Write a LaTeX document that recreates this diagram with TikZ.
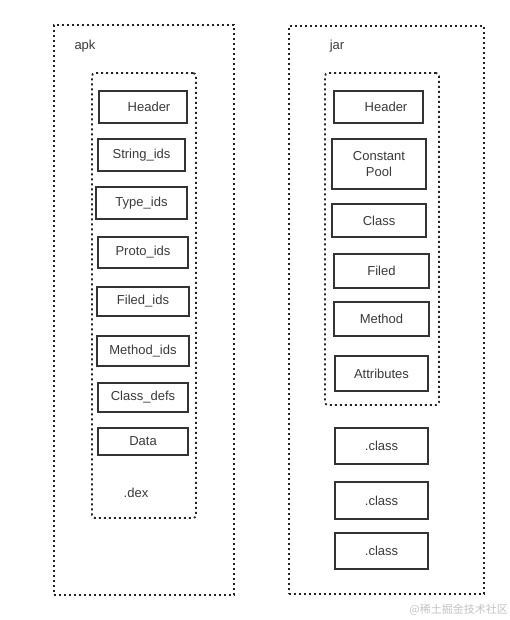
\documentclass[tikz,border=0pt]{standalone}
\usepackage{fontspec}
\setmainfont{Liberation Sans}
\newfontfamily\cjkfont{Noto Sans CJK SC}
\begin{document}
\begin{tikzpicture}[x=1pt,y=-1pt,
  every node/.style={font=\fontsize{13}{15.5}\selectfont, text=txtgray},
  blk/.style={draw=boxgray, line width=1.6pt, inner sep=0pt, align=center},
  container/.style={draw=dotgray, line width=1.8pt, dash pattern=on 2pt off 3pt, inner sep=0pt},
  inner container/.style={container, rounded corners=3pt},
  lbl/.style={inner sep=0pt}
]
\definecolor{boxgray}{HTML}{333333}
\definecolor{dotgray}{HTML}{222222}
\definecolor{txtgray}{HTML}{3A3A3A}
\definecolor{wmgray}{HTML}{C4C4C4}
\useasboundingbox[fill=white] (0,0) rectangle (509,620);

% apk
\node[container, minimum width=180pt, minimum height=570pt] (apk) at (144,310) {};
\node[lbl] (apklbl) at (85,46) {apk};
\node[inner container, minimum width=104pt, minimum height=445pt] (dex) at (144,295.5) {};
\node[blk, minimum width=88pt, minimum height=32pt] (aheader) at (143,107) {\hspace{12pt}Header};
\node[blk, minimum width=87pt, minimum height=32pt] (strids) at (141.5,155) {String\_ids};
\node[blk, minimum width=91pt, minimum height=32pt] (typeids) at (141.5,203) {Type\_ids};
\node[blk, minimum width=90pt, minimum height=31pt] (protoids) at (143,252.5) {Proto\_ids};
\node[blk, minimum width=92pt, minimum height=29pt] (filedids) at (143,301.5) {Filed\_ids};
\node[blk, minimum width=92pt, minimum height=30pt] (methodids) at (143,351) {Method\_ids};
\node[blk, minimum width=90pt, minimum height=29pt] (classdefs) at (143,397.5) {Class\_defs};
\node[blk, minimum width=90pt, minimum height=27pt] (data) at (143,441.5) {Data};
\node[lbl] (dexlbl) at (136,493) {.dex};

% jar
\node[container, minimum width=195pt, minimum height=568pt] (jar) at (386.5,310) {};
\node[lbl] (jarlbl) at (337,46) {jar};
\node[inner container, minimum width=114pt, minimum height=332pt] (cls) at (382,239) {};
\node[blk, minimum width=89pt, minimum height=32pt] (jheader) at (378.5,107) {\hspace{15pt}Header};
\node[blk, minimum width=94pt, minimum height=50pt] (cpool) at (379,164) {Constant\\Pool};
\node[blk, minimum width=94pt, minimum height=33pt] (class) at (379,220.5) {Class};
\node[blk, minimum width=95pt, minimum height=34pt] (filed) at (381.5,271) {Filed};
\node[blk, minimum width=95pt, minimum height=34pt] (method) at (381.5,319) {Method};
\node[blk, minimum width=93pt, minimum height=35pt] (attr) at (381.5,373.5) {Attributes};
\node[blk, minimum width=93pt, minimum height=36pt] (classa) at (381.5,446) {.class};
\node[blk, minimum width=93pt, minimum height=37pt] (classb) at (381.5,500.5) {.class};
\node[blk, minimum width=93pt, minimum height=36pt] (classc) at (381.5,551) {.class};

% watermark
\node[lbl, anchor=east, text=wmgray, font=\fontsize{11}{13}\selectfont] (wm) at (508,610) {\cjkfont @稀土掘金技术社区};
\end{tikzpicture}
\end{document}
